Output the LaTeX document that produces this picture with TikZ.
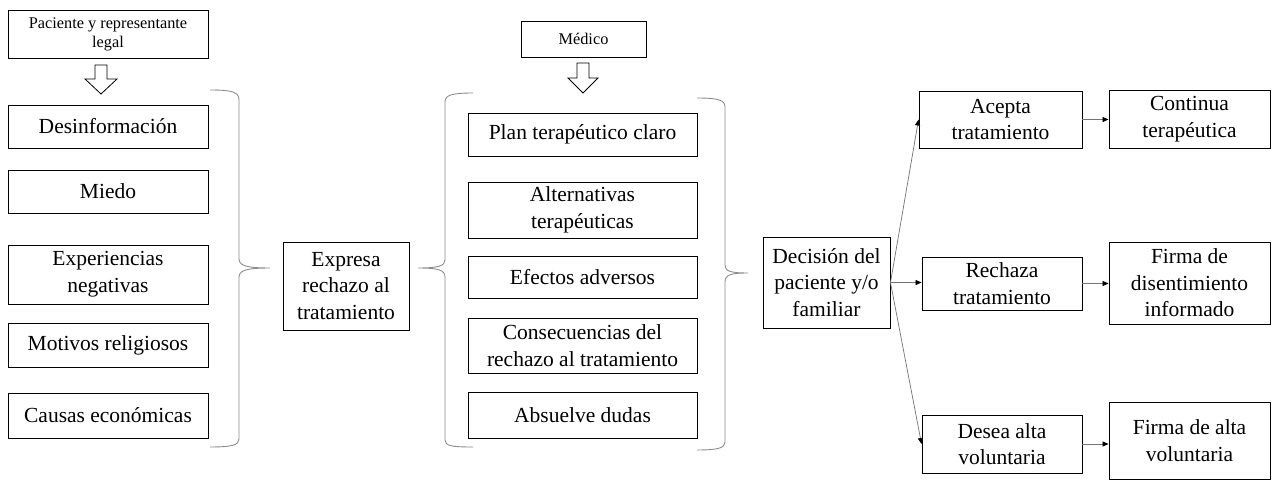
\documentclass[tikz,border=0pt]{standalone}
\usepackage{fontspec}
\setmainfont{Liberation Serif}
\usetikzlibrary{arrows.meta,calc}
\definecolor{linegray}{RGB}{115,115,115}
\definecolor{bracegray}{RGB}{140,140,140}
\begin{document}
\begin{tikzpicture}[x=1pt,y=-1pt,
  bx/.style={draw=black,line width=0.9pt,align=center,inner sep=0pt,
    font=\fontsize{21.5}{26.6}\selectfont},
  smallbx/.style={bx,font=\fontsize{16.3}{18.8}\selectfont},
  conn/.style={draw=linegray,line width=0.7pt,-{Triangle[length=6pt,width=5pt,black]}},
  brace/.style={draw=bracegray,line width=0.9pt},
  hollow/.style={draw=black,line width=0.8pt,fill=white,line join=miter}]
\useasboundingbox (0,0) rectangle (1272,481);
% nodes
\node[smallbx,minimum width=200,minimum height=48] (pac) at (108,34) {Paciente y representante\\legal};
\node[smallbx,minimum width=125,minimum height=36] (med) at (583.5,39) {Médico};
\node[bx,minimum width=200,minimum height=43] (des) at (108,126.5) {Desinformación};
\node[bx,minimum width=200,minimum height=43] (mie) at (108,191.5) {Miedo};
\node[bx,minimum width=200,minimum height=59] (exp) at (108,274.5) {Experiencias\\negativas};
\node[bx,minimum width=200,minimum height=44] (mot) at (108,345) {Motivos religiosos};
\node[bx,minimum width=200,minimum height=45] (cau) at (108,415.5) {Causas económicas};
\node[bx,minimum width=126,minimum height=88] (expr) at (346,286) {Expresa\\rechazo al\\tratamiento};
\node[bx,minimum width=229,minimum height=43] (plan) at (582.5,134.5) {Plan terapéutico claro};
\node[bx,minimum width=229,minimum height=56] (alt) at (582.5,210) {Alternativas\\terapéuticas};
\node[bx,minimum width=229,minimum height=42] (efe) at (582.5,277) {Efectos adversos};
\node[bx,minimum width=229,minimum height=55] (con) at (582.5,345.5) {Consecuencias del\\rechazo al tratamiento};
\node[bx,minimum width=229,minimum height=46] (abs) at (582.5,415) {Absuelve dudas};
\node[bx,minimum width=127,minimum height=91] (dec) at (826.5,282.5) {Decisión del\\paciente y/o\\familiar};
\node[bx,minimum width=163,minimum height=57] (acep) at (1000.5,119.5) {Acepta\\tratamiento};
\node[bx,minimum width=160,minimum height=53] (rech) at (1002,283.5) {Rechaza\\tratamiento};
\node[bx,minimum width=160,minimum height=58] (dese) at (1002,444) {Desea alta\\voluntaria};
\node[bx,minimum width=161,minimum height=58] (cont) at (1189.5,119) {Continua\\terapéutica};
\node[bx,minimum width=161,minimum height=82] (fdis) at (1189.5,283) {Firma de\\disentimiento\\informado};
\node[bx,minimum width=161,minimum height=77] (falt) at (1189.5,440.5) {Firma de alta\\voluntaria};
% hollow arrows
\draw[hollow] (95,65) -- (107,65) -- (107,79) -- (117,79) -- (101,94) -- (85,79) -- (95,79) -- cycle;
\draw[hollow] (577,63) -- (589,63) -- (589,78) -- (598,78) -- (583,93) -- (568,78) -- (577,78) -- cycle;
% braces
\draw[brace] (210,90) .. controls (232,90) and (239,92) .. (239,100) -- (239,259)
  .. controls (239,266) and (248,268) .. (270,268)
  .. controls (248,268) and (239,270) .. (239,277) -- (239,439)
  .. controls (239,445) and (232,447) .. (210,447);
\draw[brace] (473,93) .. controls (452,93) and (445,95) .. (445,102) -- (445,260)
  .. controls (445,266) and (438,268) .. (418,268)
  .. controls (438,268) and (445,270) .. (445,277) -- (445,440)
  .. controls (445,446) and (452,447) .. (473,447);
\draw[brace] (697,98) .. controls (718,98) and (725,100) .. (725,107) -- (725,265)
  .. controls (725,271) and (730,273) .. (748,273)
  .. controls (730,273) and (725,275) .. (725,282) -- (725,442)
  .. controls (725,448) and (718,450) .. (697,450);
% connectors
\draw[conn] (dec.east) -- (acep.west);
\draw[conn] (dec.east) -- (rech.west |- dec.east);
\draw[conn] (dec.east) -- (dese.west);
\draw[conn] (acep.east) -- (cont.west |- acep.east);
\draw[conn] (rech.east) -- (fdis.west |- rech.east);
\draw[conn] (dese.east) -- (falt.west |- dese.east);
\end{tikzpicture}
\end{document}
